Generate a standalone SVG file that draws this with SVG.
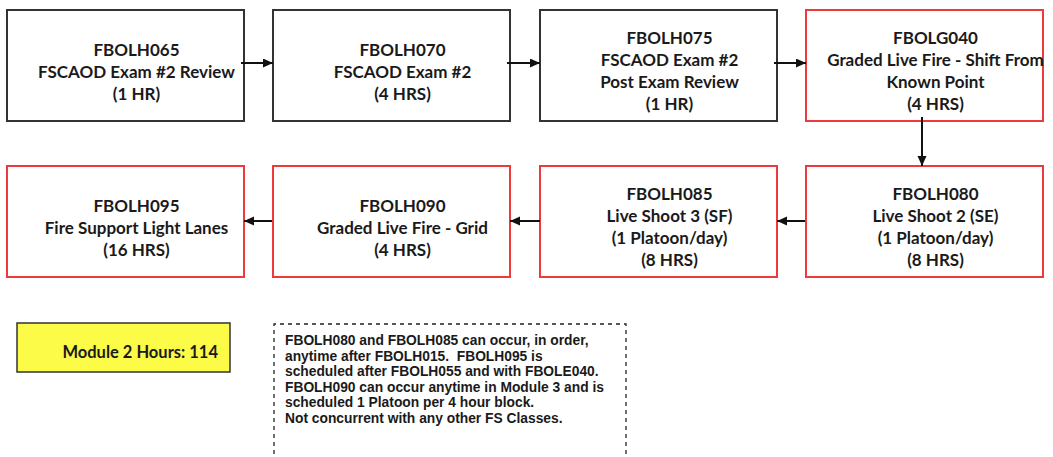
<svg xmlns="http://www.w3.org/2000/svg" width="1053" height="457" viewBox="0 0 1053 457">
  <style>
    .box { fill: #ffffff; stroke-width: 2; }
    .blk { stroke: #333333; }
    .red { stroke: #ee3a3a; }
    .t { font-family: Lato, "Liberation Sans", sans-serif; font-weight: bold; font-size: 17px; fill: #1a1a1a; text-anchor: middle; }
    .note { font-family: "Liberation Sans", Arial, sans-serif; font-weight: bold; font-size: 13.8px; fill: #1a1a1a; }
    .conn { stroke: #111111; stroke-width: 2; fill: none; marker-end: url(#ah); }
  </style>
  <defs>
    <marker id="ah" markerUnits="userSpaceOnUse" markerWidth="11" markerHeight="10" refX="10" refY="4.5" orient="auto">
      <path d="M0,0 L10,4.5 L0,9 z" fill="#111111"/>
    </marker>
  </defs>
  <rect width="1053" height="457" fill="#ffffff"/>

  <g id="FBOLH065">
    <rect class="box blk" x="7" y="10" width="237" height="111"/>
    <text class="t" x="136.5" y="56">FBOLH065</text>
    <text class="t" x="136.5" y="78">FSCAOD Exam #2 Review</text>
    <text class="t" x="136.5" y="100">(1 HR)</text>
  </g>
  <g id="FBOLH070">
    <rect class="box blk" x="273" y="10" width="237" height="111"/>
    <text class="t" x="402.5" y="56">FBOLH070</text>
    <text class="t" x="402.5" y="78">FSCAOD Exam #2</text>
    <text class="t" x="402.5" y="100">(4 HRS)</text>
  </g>
  <g id="FBOLH075">
    <rect class="box blk" x="540" y="10" width="237" height="111"/>
    <text class="t" x="669.5" y="44">FBOLH075</text>
    <text class="t" x="669.5" y="66">FSCAOD Exam #2</text>
    <text class="t" x="669.5" y="88">Post Exam Review</text>
    <text class="t" x="669.5" y="110">(1 HR)</text>
  </g>
  <g id="FBOLG040">
    <rect class="box red" x="806" y="10" width="237" height="111"/>
    <text class="t" x="935.5" y="44">FBOLG040</text>
    <text class="t" x="935.5" y="66">Graded Live Fire - Shift From</text>
    <text class="t" x="935.5" y="88">Known Point</text>
    <text class="t" x="935.5" y="110">(4 HRS)</text>
  </g>

  <g id="FBOLH095">
    <rect class="box red" x="7" y="166" width="237" height="111"/>
    <text class="t" x="136.5" y="212">FBOLH095</text>
    <text class="t" x="136.5" y="234">Fire Support Light Lanes</text>
    <text class="t" x="136.5" y="256">(16 HRS)</text>
  </g>
  <g id="FBOLH090">
    <rect class="box red" x="273" y="166" width="237" height="111"/>
    <text class="t" x="402.5" y="212">FBOLH090</text>
    <text class="t" x="402.5" y="234">Graded Live Fire - Grid</text>
    <text class="t" x="402.5" y="256">(4 HRS)</text>
  </g>
  <g id="FBOLH085">
    <rect class="box red" x="540" y="166" width="237" height="111"/>
    <text class="t" x="669.5" y="200">FBOLH085</text>
    <text class="t" x="669.5" y="222">Live Shoot 3 (SF)</text>
    <text class="t" x="669.5" y="244">(1 Platoon/day)</text>
    <text class="t" x="669.5" y="266">(8 HRS)</text>
  </g>
  <g id="FBOLH080">
    <rect class="box red" x="806" y="166" width="237" height="111"/>
    <text class="t" x="935.5" y="200">FBOLH080</text>
    <text class="t" x="935.5" y="222">Live Shoot 2 (SE)</text>
    <text class="t" x="935.5" y="244">(1 Platoon/day)</text>
    <text class="t" x="935.5" y="266">(8 HRS)</text>
  </g>

  <g id="connectors">
    <line class="conn" x1="241" y1="63" x2="273" y2="63"/>
    <line class="conn" x1="507" y1="63" x2="540" y2="63"/>
    <line class="conn" x1="774" y1="63" x2="806" y2="63"/>
    <line class="conn" x1="922" y1="117" x2="922" y2="166"/>
    <line class="conn" x1="805" y1="221" x2="777" y2="221"/>
    <line class="conn" x1="540" y1="221" x2="510" y2="221"/>
    <line class="conn" x1="272" y1="221" x2="244" y2="221"/>
  </g>

  <g id="module-hours">
    <rect x="17" y="323" width="213" height="49" fill="#fbfb48" stroke="#333333" stroke-width="1.5"/>
    <text class="t" x="218" y="358" style="text-anchor:end;font-size:16.5px">Module 2 Hours: 114</text>
  </g>

  <g id="note">
    <path d="M274,470 L274,324 L626,324 L626,470" fill="none" stroke="#222222" stroke-width="1.3" stroke-dasharray="4,4"/>
    <text class="note" x="285" y="345">FBOLH080 and FBOLH085 can occur, in order,</text>
    <text class="note" x="285" y="360.5" xml:space="preserve">anytime after FBOLH015.  FBOLH095 is</text>
    <text class="note" x="285" y="376">scheduled after FBOLH055 and with FBOLE040.</text>
    <text class="note" x="285" y="391.5">FBOLH090 can occur anytime in Module 3 and is</text>
    <text class="note" x="285" y="407">scheduled 1 Platoon per 4 hour block.</text>
    <text class="note" x="285" y="422.5">Not concurrent with any other FS Classes.</text>
  </g>
</svg>
